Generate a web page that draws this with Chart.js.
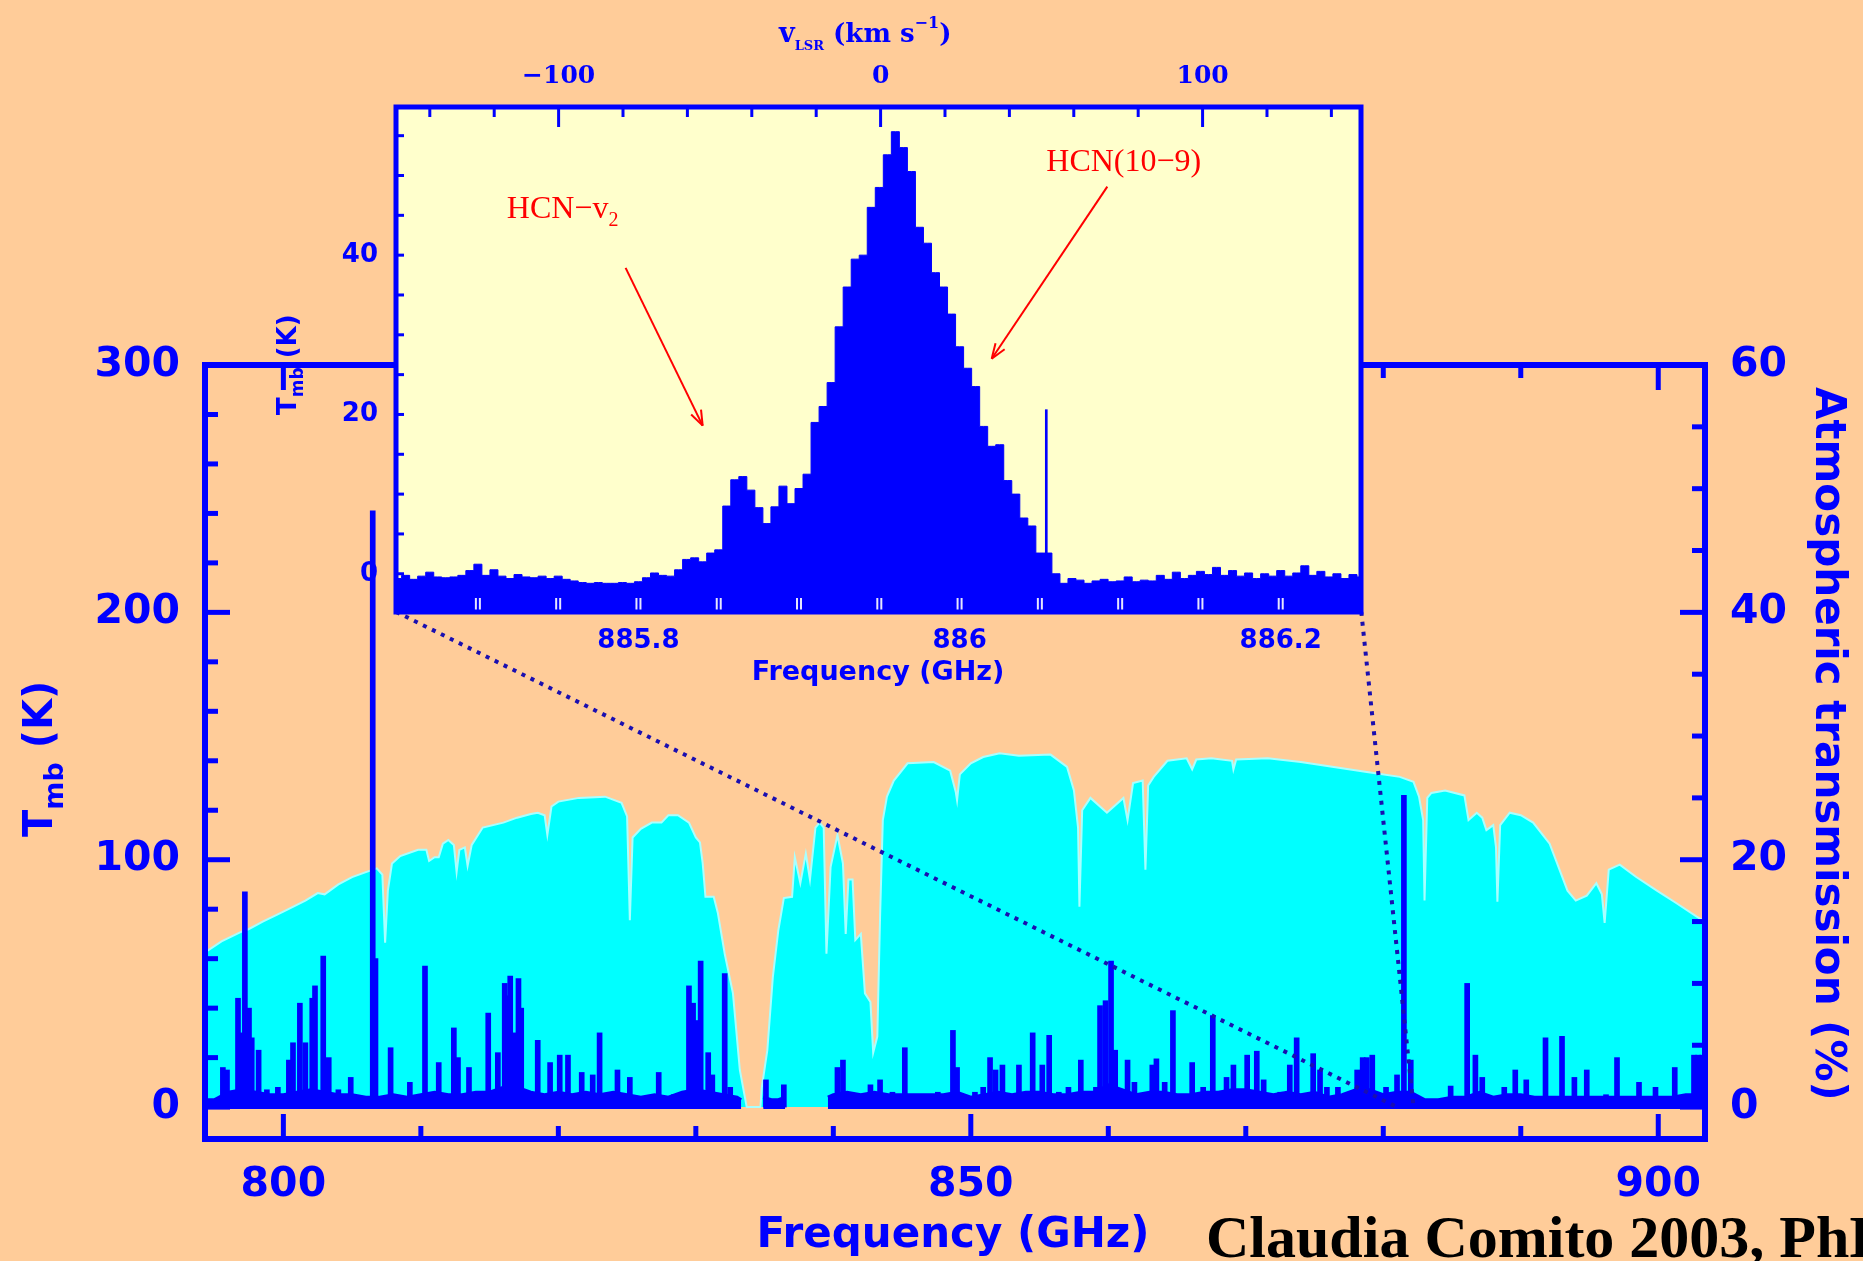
<!DOCTYPE html>
<html>
<head>
<meta charset="utf-8">
<script src="https://cdn.jsdelivr.net/npm/chart.js@4.4.0/dist/chart.umd.min.js"></script>
<style>
  html, body { margin: 0; padding: 0; width: 1863px; height: 1261px; overflow: hidden; background: #FFCC99; }
  .layer { position: absolute; left: 0; top: 0; }
  #credit { position: absolute; left: 1206px; top: 1207px; font: bold 60px "Liberation Serif"; line-height: 60px; color: #000; white-space: nowrap; }
</style>
</head>
<body>
<canvas id="main" class="layer" width="1863" height="1261"></canvas>
<canvas id="inset" class="layer" width="1863" height="1261"></canvas>
<div id="credit">Claudia Comito 2003, PhD thesis</div>
<script>
// --- main panel: line survey (Tmb, K) and atmospheric transmission (%) ---
const mainFreqTicks = [800, 850, 900];
const tmbTicks = [0, 100, 200, 300];
const transTicks = [0, 20, 40, 60];

// strong lines: frequency (GHz) and peak Tmb (K)
const spikeFreq = [795.6, 795.9, 796.7, 797.0, 797.2, 797.5, 797.7, 798.2, 798.8, 799.6,
  800.4, 800.7, 801.2, 801.6, 802.1, 802.3, 802.9, 803.3, 804.0, 804.9,
  806.5, 806.7, 807.8, 809.2, 810.3, 811.3, 812.4, 812.7, 813.5, 814.9,
  815.6, 816.1, 816.3, 816.5, 816.8, 817.1, 817.3, 818.5, 819.4, 820.1,
  820.7, 821.7, 822.5, 823.0, 824.3, 825.2, 827.3, 828.4, 829.5, 829.8,
  830.1, 830.35, 830.9, 831.2, 832.1, 832.5, 835.1, 836.4,
  840.3, 840.7, 841.5, 842.7, 843.4, 844.3, 845.2, 846.8, 847.6, 848.7,
  849.0, 850.3, 850.9, 851.4, 851.8, 852.3, 853.5, 854.5, 855.2, 855.7,
  856.4, 857.1, 858.0, 859.1, 859.4, 859.8, 860.2, 860.5, 861.4, 861.9,
  863.2, 863.5, 864.1, 864.7, 865.3, 866.1, 866.9, 867.6, 868.6, 869.1,
  870.1, 870.8, 871.3, 872.5, 873.2, 873.7, 874.2, 874.9, 875.4, 875.9,
  876.7, 878.1, 878.5, 878.8, 879.2, 880.2, 881.0, 881.5, 882.0, 882.8,
  884.9, 886.1, 886.7, 887.2, 888.8, 889.6, 890.4, 891.8, 893.0, 893.9,
  894.8, 896.2, 897.0, 898.6, 899.8, 901.2, 902.6, 902.9, 903.2];
const spikeT = [16, 15, 44, 30, 87, 40, 28, 23, 7, 8,
  19, 26, 42, 26, 44, 49, 61, 20, 7, 12,
  241, 60, 24, 10, 57, 18, 32, 20, 16, 38,
  22, 50, 45, 53, 30, 52, 40, 27, 18, 21,
  21, 14, 13, 30, 15, 12, 14, 5, 49, 42,
  35, 59, 22, 13, 54, 8, 11, 9,
  16, 19, 5, 9, 11, 6, 24, 5, 6, 31,
  16, 6, 8, 20, 15, 17, 17, 30, 17, 29,
  6, 8, 19, 8, 41, 43, 59, 23, 19, 10,
  17, 19.5, 10, 39, 5, 18, 8, 37, 12, 17,
  21, 22.6, 11, 6, 17, 28, 5, 21.6, 15, 8,
  8, 15, 20, 20, 21, 8, 13, 126, 19, 3,
  8.5, 50, 21, 12, 8, 15, 11, 28, 28.6, 12,
  15, 5, 20, 10, 8, 16, 21, 21, 21];

// top of the dense noise / weak-line band (K); null where no spectrum was taken
const floorFreq = [794.4, 795, 796, 797, 798, 799, 800, 801, 802, 803, 804, 805, 806, 807, 808, 809,
  810, 811, 812, 813, 814, 815, 816, 817, 818, 819, 820, 821, 822, 823, 824, 825, 826, 827, 828,
  829, 830, 831, 832, 833, 833.3, 833.4, 834.8, 834.9, 835.5, 836, 836.5, 836.6, 839.5, 839.6,
  840, 841, 842, 843, 844, 845, 846, 847, 848, 849, 850, 851, 852, 853, 854, 855, 856, 857, 858,
  859, 860, 861, 862, 863, 864, 865, 866, 867, 868, 869, 870, 871, 872, 873, 874, 875, 876, 877,
  878, 879, 880, 881, 882, 883, 884, 885, 886, 887, 888, 889, 890, 891, 892, 893, 894, 895, 896,
  897, 898, 899, 900, 901, 902, 903, 903.4];
const floorT = [3, 3, 6, 7, 6, 5, 5, 6, 7, 6, 5, 5, 4, 4, 5, 4,
  5, 6, 5, 5, 6, 6, 8, 8, 6, 5, 6, 5, 6, 5, 6, 5, 4, 5, 4,
  6, 7, 6, 5, 4, 3, null, null, 4, 3, 3, 4, null, null, 4,
  5, 6, 5, 6, 5, 5, 5, 5, 5, 6, 4, 5, 6, 5, 6, 6, 5, 5, 6,
  6, 9, 7, 5, 6, 6, 5, 5, 6, 6, 7, 7, 6, 5, 6, 5, 6, 4, 5,
  7, 7, 5, 6, 6, 3, 3, 4, 4, 6, 4, 5, 5, 4, 4, 4, 4, 4, 4,
  4, 4, 4, 4, 4, 5, 5, 6];

// atmospheric transmission (%)
const atmFreq = [794.3, 795.5, 797.0, 797.5, 798.5, 800.0, 801.6, 802.5, 803.0, 804.0, 805.0, 806.0,
  806.8, 807.2, 807.4, 807.6, 807.9, 808.5, 809.8, 810.4, 810.6, 811.0, 811.3, 811.6, 812.0,
  812.4, 812.6, 812.8, 813.2, 813.4, 813.7, 814.5, 816.0, 817.0, 818.0, 818.5, 819.0, 819.2,
  819.5, 820.0, 821.5, 823.4, 824.6, 825.0, 825.2, 825.4, 826.0, 826.8, 827.5, 828.0, 828.7,
  829.5, 830.0, 830.3, 830.5, 830.7, 831.3, 831.6, 832.1, 832.7, 833.2, 833.7, 834.7, 834.8,
  835.2, 835.6, 836.0, 836.4, 837.0, 837.2, 837.6, 838.0, 838.3, 838.7, 839.0, 839.3, 839.5,
  839.8, 840.3, 840.7, 840.9, 841.1, 841.4, 841.6, 842.0, 842.3, 842.7, 842.9, 843.2, 843.4,
  843.6, 843.9, 844.4, 845.4, 847.3, 848.5, 848.9, 849.0, 849.2, 850.0, 850.9, 852.1, 853.5,
  855.8, 857.0, 857.5, 857.8, 857.9, 858.1, 858.7, 859.9, 861.1, 861.4, 861.8, 862.5, 862.7,
  862.9, 863.3, 864.3, 865.7, 866.1, 866.4, 867.5, 869.0, 869.1, 869.3, 871.6, 874.0, 876.4,
  878.8, 881.2, 882.2, 882.6, 882.9, 883.0, 883.2, 883.5, 884.5, 885.9, 886.2, 886.8, 887.2,
  887.5, 888.0, 888.2, 888.3, 888.5, 889.2, 890.0, 890.9, 892.1, 893.4, 894.0, 894.8, 895.5,
  895.9, 896.1, 896.4, 897.2, 898.4, 899.9, 901.3, 902.8, 903.4];
const atmPct = [12.5, 13.4, 14.2, 14.4, 15.0, 15.8, 16.7, 17.3, 17.2, 18.0, 18.6, 19.0,
  19.3, 18.8, 13.3, 17.5, 19.7, 20.3, 20.8, 20.8, 19.9, 20.2, 20.2, 21.3, 21.6,
  21.2, 19.0, 20.8, 21.0, 19.5, 21.2, 22.6, 23.0, 23.4, 23.7, 23.8, 23.6, 22.0,
  24.3, 24.7, 25.0, 25.1, 24.6, 23.5, 15.1, 21.8, 22.5, 23.0, 23.0, 23.6, 23.6,
  23.0, 21.8, 21.4, 19.7, 17.0, 17.0, 15.7, 12.4, 9.2, 3.0, 0, 0, 1.6,
  4.6, 10.5, 14.3, 16.9, 17.0, 20.2, 18.1, 20.5, 18.4, 22.6, 23.0, 22.6, 12.4,
  19.4, 22.0, 19.7, 14.0, 18.4, 18.4, 13.5, 14.0, 9.2, 8.5, 4.4, 5.7, 15.4,
  23.2, 25.1, 26.4, 27.8, 27.9, 27.2, 25.5, 24.8, 26.9, 27.8, 28.3, 28.6, 28.4,
  28.5, 27.5, 25.6, 22.6, 16.2, 24.0, 25.0, 23.8, 25.0, 23.2, 26.2, 26.4, 19.2,
  26.0, 26.7, 28.0, 28.2, 27.3, 28.1, 28.2, 28.0, 27.3, 28.1, 28.2, 27.9, 27.5,
  27.1, 26.7, 26.3, 25.1, 23.2, 16.7, 25.0, 25.4, 25.6, 25.2, 23.2, 23.8, 23.4,
  22.4, 22.8, 21.0, 16.6, 22.8, 23.8, 23.6, 23.0, 21.3, 17.5, 16.7, 17.1, 18.1,
  17.2, 14.9, 19.2, 19.6, 18.6, 17.5, 16.5, 15.4, 15.0];

// dotted connectors from the inset corners down to the zoomed line (GHz, K)
const zoomLeft = [[808.2, 200.2], [881.0, 0]];
const zoomRight = [[878.4, 200.2], [882.2, 0]];

// --- inset: HCN(10-9) profile ---
const insetFreqTicks = [885.8, 886, 886.2];
const insetTTicks = [0, 20, 40];
const velTicks = [-100, 0, 100];
const insetStart = 885.650, insetChan = 0.005;
const insetT = [-0.6, -0.2, -0.7, -0.3, 0.2, -0.4, -0.5, -0.4, -0.2, 0.4,
  1.2, -0.2, 0.5, -0.3, -0.6, -0.1, -0.4, -0.5, -0.3, -0.6,
  -0.3, -0.7, -0.9, -1.1, -1.2, -1.1, -1.2, -1.2, -1.1, -1.2,
  -1.0, -0.5, 0.1, -0.2, -0.3, 0.5, 1.8, 2.0, 1.5, 2.6,
  3.0, 8.5, 11.8, 12.2, 10.5, 8.3, 6.3, 8.4, 11.0, 8.8,
  10.7, 12.5, 19, 21, 24, 31, 36, 39.5, 40, 46,
  48.5, 52.6, 55.5, 53.5, 50.5, 43.5, 41.5, 37.8, 36, 32.6,
  28.5, 25.8, 23.5, 18.5, 16, 16.2, 11.7, 10, 7, 6,
  2.6, 2.6, 0, -1.2, -0.6, -0.8, -1.2, -0.9, -0.7, -1.0,
  -0.9, -0.4, -1.0, -0.8, -0.9, -0.2, -0.7, 0.2, -0.6, -0.2,
  0.3, -0.1, 0.8, -0.2, 0.4, -0.3, 0.1, -0.6, 0.0, -0.3,
  0.4, -0.3, 0.1, 1.0, -0.2, 0.3, -0.4, 0.0, -0.6, -0.1, -0.4];
const insetSpikeFreq = [886.054];
const insetSpikeT = [20.6];

const BLUE = '#0000FF';
const RED = '#FF0000';
const tickFont = { family: 'DejaVu Sans', size: 41, weight: 'bold' };
const smallFont = { family: 'DejaVu Sans', size: 26, weight: 'bold' };

function setTicks(list) {
  return scale => { scale.ticks = list.map(v => ({ value: v })); };
}

function line(ctx, x0, y0, x1, y1) {
  ctx.beginPath(); ctx.moveTo(x0, y0); ctx.lineTo(x1, y1); ctx.stroke();
}

// draw text pieces one after the other (for sub / superscripts)
function pieces(ctx, x, y, parts) {
  let cx = x;
  parts.forEach(([t, font, dy]) => {
    ctx.font = font;
    ctx.fillText(t, cx, y + dy);
    cx += ctx.measureText(t).width;
  });
}

function arrow(ctx, x0, y0, x1, y1) {
  line(ctx, x0, y0, x1, y1);
  const ang = Math.atan2(y1 - y0, x1 - x0);
  [-0.35, 0.35].forEach(s => {
    line(ctx, x1, y1, x1 - 16 * Math.cos(ang + s), y1 - 16 * Math.sin(ang + s));
  });
}

const mainDecor = {
  id: 'mainDecor',
  afterDraw(chart) {
    const { ctx, chartArea: a, scales } = chart;
    ctx.save();
    ctx.strokeStyle = BLUE;
    ctx.fillStyle = BLUE;
    ctx.lineWidth = 5;
    // inward tick marks
    for (let v = 800; v <= 900; v += 10) {
      const px = scales.x.getPixelForValue(v);
      const len = v % 50 === 0 ? 25 : 13;
      line(ctx, px, a.bottom, px, a.bottom - len);
      line(ctx, px, a.top, px, a.top + len);
    }
    for (let v = 0; v <= 300; v += 20) {
      const py = scales.y.getPixelForValue(v);
      line(ctx, a.left, py, a.left + (v % 100 === 0 ? 25 : 13), py);
    }
    for (let v = 0; v <= 60; v += 5) {
      const py = scales.y2.getPixelForValue(v);
      line(ctx, a.right, py, a.right - (v % 20 === 0 ? 25 : 13), py);
    }
    ctx.lineWidth = 6;
    ctx.strokeRect(a.left, a.top, a.right - a.left, a.bottom - a.top);

    // axis titles
    ctx.textBaseline = 'alphabetic';
    ctx.textAlign = 'center';
    ctx.font = 'bold 42px "DejaVu Sans"';
    ctx.fillText('Frequency (GHz)', 953, 1247);
    ctx.textAlign = 'left';

    ctx.save();
    ctx.translate(52, 837);
    ctx.rotate(-Math.PI / 2);
    pieces(ctx, 0, 0, [['T', 'bold 40px "DejaVu Sans"', 0], ['mb', 'bold 27px "DejaVu Sans"', 11],
      [' (K)', 'bold 40px "DejaVu Sans"', 0]]);
    ctx.restore();

    ctx.save();
    ctx.translate(1816, 387);
    ctx.rotate(Math.PI / 2);
    ctx.font = 'bold 42px "DejaVu Sans"';
    ctx.fillText('Atmospheric transmission (%)', 0, 0);
    ctx.restore();
    ctx.restore();
  }
};

new Chart(document.getElementById('main'), {
  type: 'line',
  data: {
    datasets: [
      {
        type: 'line', label: 'zoom left', yAxisID: 'y', order: 0,
        data: zoomLeft.map(p => ({ x: p[0], y: p[1] })),
        borderColor: '#1A0FB0', borderWidth: 4, borderDash: [4, 6], pointRadius: 0
      },
      {
        type: 'line', label: 'zoom right', yAxisID: 'y', order: 0,
        data: zoomRight.map(p => ({ x: p[0], y: p[1] })),
        borderColor: '#1A0FB0', borderWidth: 4, borderDash: [4, 6], pointRadius: 0
      },
      {
        type: 'bar', label: 'Tmb lines', yAxisID: 'y', order: 1,
        data: spikeFreq.map((f, i) => ({ x: f, y: spikeT[i] })),
        backgroundColor: BLUE, barThickness: 5
      },
      {
        type: 'line', label: 'Tmb band', yAxisID: 'y', order: 2,
        data: floorFreq.map((f, i) => ({ x: f, y: floorT[i] })),
        borderColor: BLUE, borderWidth: 3, backgroundColor: BLUE,
        fill: { value: -0.8 }, pointRadius: 0, spanGaps: false
      },
      {
        type: 'line', label: 'Atmospheric transmission', yAxisID: 'y2', order: 3,
        data: atmFreq.map((f, i) => ({ x: f, y: atmPct[i] })),
        borderColor: '#A8FFFF', borderWidth: 2, backgroundColor: '#00FFFF',
        fill: 'origin', pointRadius: 0
      }
    ]
  },
  options: {
    responsive: false,
    animation: false,
    events: [],
    layout: { padding: { top: 365, left: 0, right: 0, bottom: 0 } },
    plugins: { legend: { display: false }, tooltip: { enabled: false } },
    scales: {
      x: {
        type: 'linear', min: 794.3, max: 903.4, offset: false,
        grid: { display: false, drawTicks: false }, border: { display: false },
        afterBuildTicks: setTicks(mainFreqTicks),
        afterFit: s => { s.height = 122; },
        ticks: { font: tickFont, color: BLUE, padding: 22, maxRotation: 0, autoSkip: false }
      },
      y: {
        type: 'linear', position: 'left', min: -12.9, max: 300,
        grid: { display: false, drawTicks: false }, border: { display: false },
        afterBuildTicks: setTicks(tmbTicks),
        afterFit: s => { s.width = 205; },
        ticks: { font: tickFont, color: BLUE, padding: 25, autoSkip: false }
      },
      y2: {
        type: 'linear', position: 'right', min: -2.58, max: 60,
        grid: { display: false, drawTicks: false }, border: { display: false },
        afterBuildTicks: setTicks(transTicks),
        afterFit: s => { s.width = 158; },
        ticks: { font: tickFont, color: BLUE, padding: 25, autoSkip: false }
      }
    }
  },
  plugins: [mainDecor]
});

const insetDecor = {
  id: 'insetDecor',
  beforeDraw(chart) {
    const { ctx, chartArea: a } = chart;
    ctx.save();
    ctx.fillStyle = '#FFFFCC';
    ctx.fillRect(a.left, a.top, a.right - a.left, a.bottom - a.top);
    ctx.restore();
  },
  afterDraw(chart) {
    const { ctx, chartArea: a, scales } = chart;
    ctx.save();
    // ticks
    ctx.strokeStyle = '#E6E6FF';
    ctx.lineWidth = 2;
    for (let i = 1; i < 12; i++) {
      const f = 885.65 + i * 0.05;
      const px = scales.x.getPixelForValue(f);
      line(ctx, px - 2, a.bottom, px - 2, a.bottom - 14);
      line(ctx, px + 2, a.bottom, px + 2, a.bottom - 14);
    }
    ctx.strokeStyle = BLUE;
    ctx.lineWidth = 3;
    for (let v = -140; v <= 140; v += 20) {
      const px = scales.x2.getPixelForValue(v);
      line(ctx, px, a.top, px, a.top + (v % 100 === 0 ? 20 : 10));
    }
    for (let v = 0; v <= 55; v += 5) {
      const py = scales.y.getPixelForValue(v);
      line(ctx, a.left, py, a.left + 8, py);
    }
    ctx.lineWidth = 5;
    ctx.strokeRect(a.left, a.top, a.right - a.left, a.bottom - a.top);

    // titles
    ctx.fillStyle = BLUE;
    ctx.textBaseline = 'alphabetic';
    ctx.textAlign = 'center';
    ctx.font = 'bold 27px "DejaVu Sans"';
    ctx.fillText('Frequency (GHz)', 878, 680);
    ctx.textAlign = 'left';
    pieces(ctx, 779, 42, [['v', 'bold 27px "DejaVu Serif"', 0], ['LSR', 'bold 13px "DejaVu Serif"', 8],
      [' (km s', 'bold 26px "DejaVu Serif"', 0], ['−1', 'bold 16px "DejaVu Serif"', -14],
      [')', 'bold 26px "DejaVu Serif"', 0]]);
    ctx.save();
    ctx.translate(296, 415);
    ctx.rotate(-Math.PI / 2);
    pieces(ctx, 0, 0, [['T', 'bold 26px "DejaVu Sans"', 0], ['mb', 'bold 17px "DejaVu Sans"', 7],
      [' (K)', 'bold 26px "DejaVu Sans"', 0]]);
    ctx.restore();

    // red labels and arrows
    const X = v => scales.x.getPixelForValue(v);
    const Y = v => scales.y.getPixelForValue(v);
    ctx.fillStyle = RED;
    ctx.strokeStyle = RED;
    ctx.lineWidth = 2;
    pieces(ctx, X(885.718), Y(44.7), [['HCN−v', '32px "Liberation Serif"', 0], ['2', '20px "Liberation Serif"', 8]]);
    ctx.font = '32px "Liberation Serif"';
    ctx.fillText('HCN(10−9)', X(886.054), Y(50.6));
    arrow(ctx, X(885.792), Y(38.4), X(885.840), Y(18.6));
    arrow(ctx, X(886.092), Y(48.6), X(886.020), Y(27.0));
    ctx.restore();
  }
};

new Chart(document.getElementById('inset'), {
  type: 'line',
  data: {
    datasets: [
      {
        type: 'bar', label: 'narrow line', order: 0,
        data: insetSpikeFreq.map((f, i) => ({ x: f, y: insetSpikeT[i] })),
        backgroundColor: BLUE, barThickness: 2
      },
      {
        type: 'line', label: 'HCN(10-9)', order: 1,
        data: insetT.map((t, i) => ({ x: insetStart + i * insetChan, y: t })),
        stepped: 'middle', fill: 'start', backgroundColor: BLUE, borderColor: BLUE,
        borderWidth: 1, pointRadius: 0
      }
    ]
  },
  options: {
    responsive: false,
    animation: false,
    events: [],
    layout: { padding: { top: 0, left: 0, right: 502, bottom: 0 } },
    plugins: { legend: { display: false }, tooltip: { enabled: false } },
    scales: {
      x: {
        type: 'linear', position: 'bottom', min: 885.649, max: 886.25, offset: false,
        grid: { display: false, drawTicks: false }, border: { display: false },
        afterBuildTicks: setTicks(insetFreqTicks),
        afterFit: s => { s.height = 649; },
        ticks: { font: smallFont, color: BLUE, padding: 14, maxRotation: 0, autoSkip: false,
          callback: v => String(v) }
      },
      x2: {
        type: 'linear', position: 'top', min: -150.5, max: 149.2, offset: false,
        grid: { display: false, drawTicks: false }, border: { display: false },
        afterBuildTicks: setTicks(velTicks),
        afterFit: s => { s.height = 107; },
        ticks: { font: { family: 'DejaVu Serif', size: 25, weight: 'bold' }, color: BLUE, padding: 16,
          maxRotation: 0, autoSkip: false, callback: v => (v < 0 ? '−' + Math.abs(v) : String(v)) }
      },
      y: {
        type: 'linear', position: 'left', min: -4.8, max: 58.6,
        grid: { display: false, drawTicks: false }, border: { display: false },
        afterBuildTicks: setTicks(insetTTicks),
        afterFit: s => { s.width = 396; },
        ticks: { font: smallFont, color: BLUE, padding: 18, autoSkip: false }
      }
    }
  },
  plugins: [insetDecor]
});
</script>
</body>
</html>
